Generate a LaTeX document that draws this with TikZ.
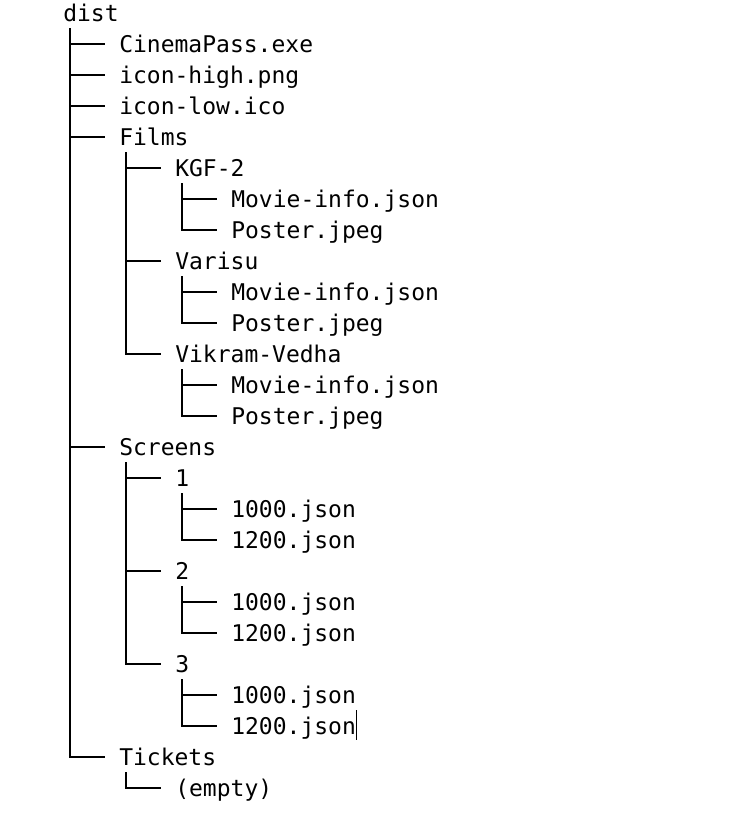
\documentclass[tikz,border=0pt]{standalone}
\usepackage{fontspec}
\setmonofont{DejaVu Sans Mono}
\usetikzlibrary{calc}

\begin{document}
\begin{tikzpicture}[x=0.75pt,y=-0.75pt,
  entry/.style={anchor=base west,inner sep=0pt,text height=14pt,text depth=1.5pt,
    font=\ttfamily\fontsize{17.25pt}{20pt}\selectfont},
  treeline/.style={line width=1.5pt}]
\useasboundingbox[fill=white](0,0)rectangle(733,827);
% entries: name/level/row/text
\foreach \n/\l/\r/\t in {dist/0/0/dist,exe/1/1/CinemaPass.exe,hi/1/2/icon-high.png,
  lo/1/3/icon-low.ico,films/1/4/Films,kgf/2/5/KGF-2,kgfinfo/3/6/Movie-info.json,
  kgfposter/3/7/Poster.jpeg,varisu/2/8/Varisu,varinfo/3/9/Movie-info.json,
  varposter/3/10/Poster.jpeg,vikram/2/11/Vikram-Vedha,vikinfo/3/12/Movie-info.json,
  vikposter/3/13/Poster.jpeg,screens/1/14/Screens,sa/2/15/1,saa/3/16/1000.json,
  sab/3/17/1200.json,sb/2/18/2,sba/3/19/1000.json,sbb/3/20/1200.json,sc/2/21/3,
  sca/3/22/1000.json,scb/3/23/1200.json,tickets/1/24/Tickets,empty/2/25/(empty)}
  \node[entry](\n)at(63+56*\l,21.4+31*\r){\t};
\foreach \p in {dist,films,kgf,varisu,vikram,screens,sa,sb,sc,tickets}
  \coordinate(t-\p)at($(\p.west)+(7,0)$);
% trunks ending in a corner
\foreach \p/\c in {dist/tickets,films/vikram,kgf/kgfposter,varisu/varposter,
  vikram/vikposter,screens/sc,sa/sab,sb/sbb,sc/scb,tickets/empty}
  \draw[treeline]($(t-\p)+(0,15)$)|-($(\c.west)+(-14,0)$);
% other branches
\foreach \p/\c in {dist/exe,dist/hi,dist/lo,dist/films,dist/screens,films/kgf,
  films/varisu,kgf/kgfinfo,varisu/varinfo,vikram/vikinfo,screens/sa,screens/sb,
  sa/saa,sb/sba,sc/sca}
  \draw[treeline](t-\p|-\c.west)--($(\c.west)+(-14,0)$);
% text cursor
\draw[line width=0.75pt]($(scb.east)+(0,-16)$)--($(scb.east)+(0,14)$);
\end{tikzpicture}
\end{document}
